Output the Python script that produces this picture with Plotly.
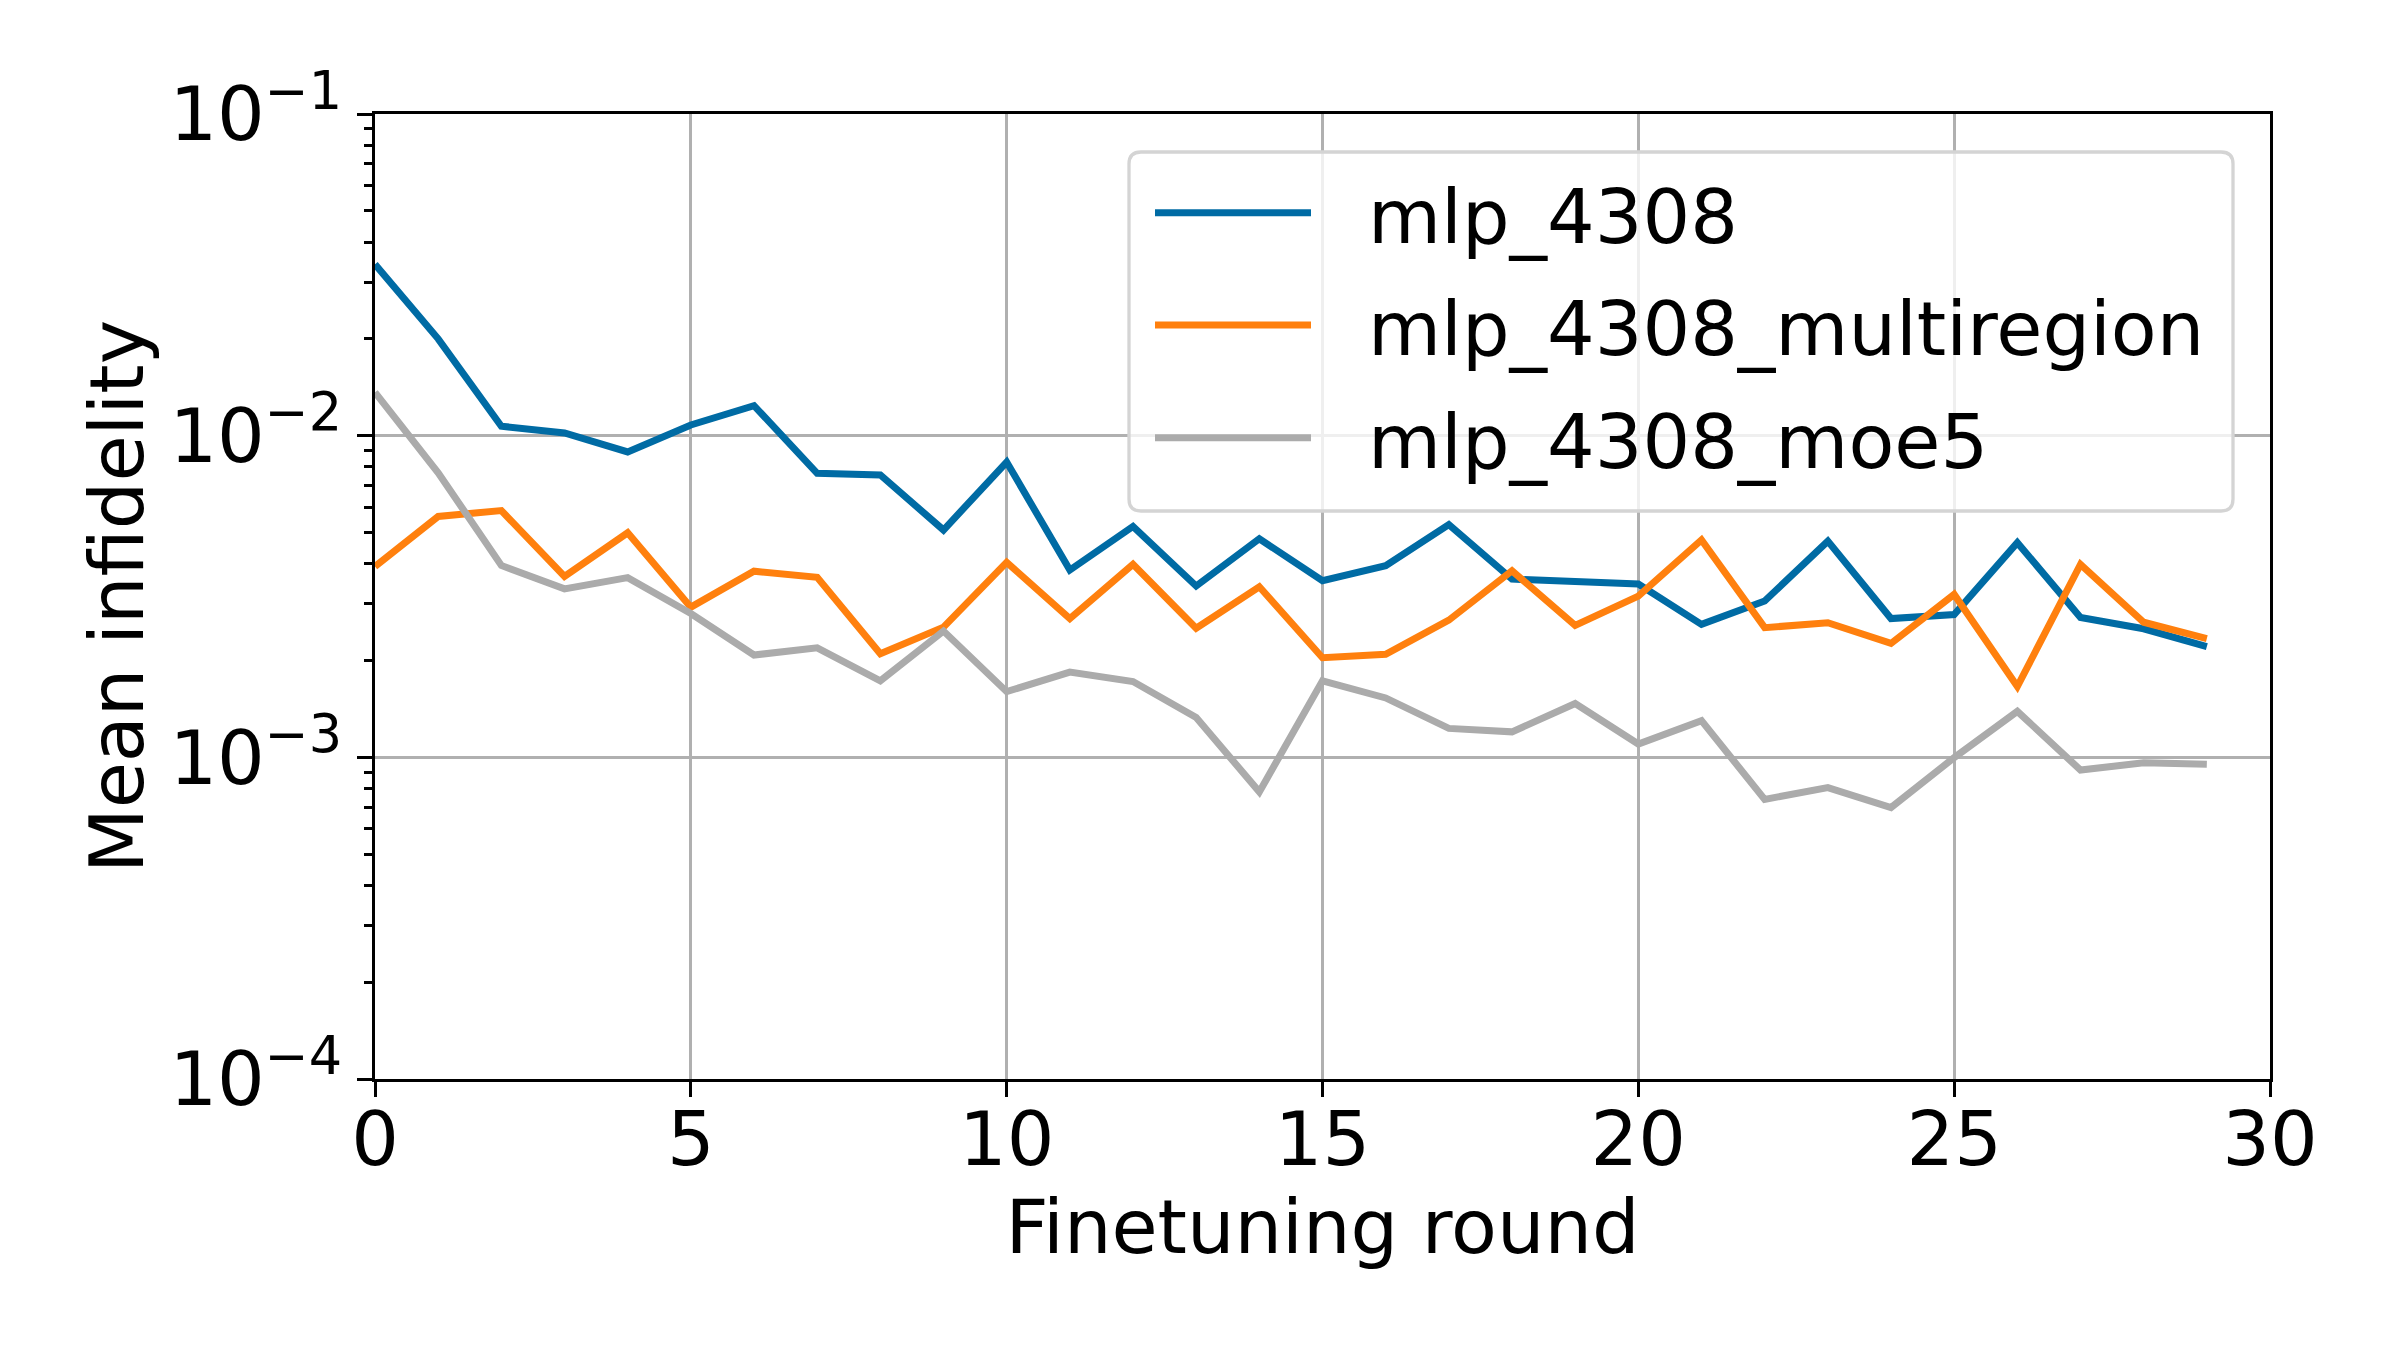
import plotly.graph_objects as go

rounds = list(range(30))
mlp_4308 = [0.0341, 0.0200, 0.0107, 0.0102, 0.0089, 0.0108, 0.0124, 0.00764, 0.00755, 0.00509,
            0.00828, 0.00382, 0.00522, 0.00341, 0.00478, 0.00354, 0.00394, 0.00529, 0.00358, 0.00354,
            0.00346, 0.00259, 0.00306, 0.00470, 0.00270, 0.00278, 0.00465, 0.00272, 0.00251, 0.00221]
mlp_4308_multiregion = [0.00392, 0.00561, 0.00585, 0.00365, 0.00499, 0.00293, 0.00379, 0.00363, 0.00210, 0.00254,
                        0.00404, 0.00270, 0.00398, 0.00252, 0.00339, 0.00204, 0.00209, 0.00267, 0.00380, 0.00257,
                        0.00317, 0.00474, 0.00253, 0.00262, 0.00226, 0.00321, 0.00166, 0.00398, 0.00263, 0.00234]
mlp_4308_moe5 = [0.01364, 0.00767, 0.00395, 0.00334, 0.00362, 0.00280, 0.00208, 0.00219, 0.00173, 0.00247,
                 0.00160, 0.00184, 0.00172, 0.00133, 0.000781, 0.00173, 0.00153, 0.00123, 0.00120, 0.00147,
                 0.00110, 0.00130, 0.000740, 0.000805, 0.000698, 0.000998, 0.00139, 0.000913, 0.000962, 0.000951]

series_names = ["mlp_4308", "mlp_4308_multiregion", "mlp_4308_moe5"]
series_values = [mlp_4308, mlp_4308_multiregion, mlp_4308_moe5]
colors = ["#006BA4", "#FF800E", "#ABABAB"]

x_ticks = [0, 5, 10, 15, 20, 25, 30]
y_ticks = [1e-4, 1e-3, 1e-2, 1e-1]
y_ticktext = ["10<sup>−4</sup>", "10<sup>−3</sup>", "10<sup>−2</sup>", "10<sup>−1</sup>"]
y_minor = [m * 10 ** e for e in (-4, -3, -2) for m in range(2, 10)]

# ---- layout geometry (screen pixels; page body adds an 8px offset) ----
BODY = 8
PL, PR, PT, PB = 375, 2270, 114, 1079   # plot area on screen
W, H = 2400 - BODY, 1350 - BODY


def fx(px):
    return (px - PL) / (PR - PL)


def fy(py):
    return (PB - py) / (PB - PT)


FONT = "DejaVu Sans"
FS = 75
LW = 7

fig = go.Figure()
for name, vals, col in zip(series_names, series_values, colors):
    fig.add_trace(go.Scatter(x=rounds, y=vals, mode="lines", name=name,
                             line=dict(color=col, width=LW), showlegend=False))

# ---- legend drawn as a box with sample lines and labels ----
shapes = []
annotations = []
bx0, bx1, by0, by1, rad = 1129, 2233, 152, 511, 12


def P(x, y):
    return f"{fx(x):.6f},{fy(y):.6f}"


path = (f"M {P(bx0 + rad, by0)} L {P(bx1 - rad, by0)} Q {P(bx1, by0)} {P(bx1, by0 + rad)} "
        f"L {P(bx1, by1 - rad)} Q {P(bx1, by1)} {P(bx1 - rad, by1)} "
        f"L {P(bx0 + rad, by1)} Q {P(bx0, by1)} {P(bx0, by1 - rad)} "
        f"L {P(bx0, by0 + rad)} Q {P(bx0, by0)} {P(bx0 + rad, by0)} Z")
shapes.append(dict(type="path", xref="paper", yref="paper", path=path,
                   fillcolor="rgba(255,255,255,0.8)", line=dict(color="#d4d4d4", width=3.3),
                   layer="above"))
row_y = [212.7, 325.0, 437.7]
for name, col, ry in zip(series_names, colors, row_y):
    shapes.append(dict(type="line", xref="paper", yref="paper",
                       x0=fx(1155), x1=fx(1311), y0=fy(ry), y1=fy(ry),
                       line=dict(color=col, width=LW), layer="above"))
    annotations.append(dict(xref="paper", yref="paper", x=fx(1366), y=fy(ry + 4),
                            xanchor="left", yanchor="middle", showarrow=False,
                            text=name, font=dict(family=FONT, size=FS, color="black")))

fig.update_layout(
    width=W, height=H,
    paper_bgcolor="white", plot_bgcolor="white",
    margin=dict(l=PL - BODY, r=W - (PR - BODY), t=PT - BODY, b=H - (PB - BODY)),
    font=dict(family=FONT, size=FS, color="black"),
    showlegend=False,
    shapes=shapes,
    annotations=annotations,
    xaxis=dict(
        range=[0, 30], tickvals=x_ticks, ticktext=[str(v) for v in x_ticks],
        showline=True, linecolor="black", linewidth=3.3, mirror=True,
        ticks="outside", ticklen=14.6, tickwidth=3.3, tickcolor="black",
        showgrid=True, gridcolor="#b0b0b0", gridwidth=3.3, zeroline=False,
        ticklabelstandoff=-22,
        title=dict(text="Finetuning round", font=dict(size=FS), standoff=18),
        tickfont=dict(size=FS),
    ),
    yaxis=dict(
        type="log", range=[-4, -1], tickvals=y_ticks, ticktext=y_ticktext,
        showline=True, linecolor="black", linewidth=3.3, mirror=True,
        ticks="outside", ticklen=14.6, tickwidth=3.3, tickcolor="black",
        showgrid=True, gridcolor="#b0b0b0", gridwidth=3.3, zeroline=False,
        minor=dict(tickvals=y_minor, ticks="outside", ticklen=8.3, tickwidth=2.5,
                   tickcolor="black", showgrid=False),
        title=dict(text="Mean infidelity", font=dict(size=FS), standoff=2),
        tickfont=dict(size=FS),
    ),
)

fig.write_html("out.html")
